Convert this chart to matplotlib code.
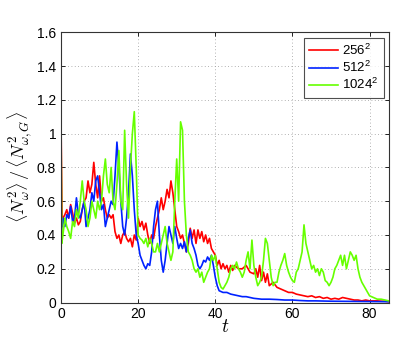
import numpy as np
import matplotlib.pyplot as plt

plt.rcParams['font.family'] = ['Liberation Sans', 'DejaVu Sans']
plt.rcParams['mathtext.fontset'] = 'cm'

# 256^2 run
t_256 = [0, 0.3, 0.5, 1, 1.5, 2, 2.5, 3, 3.5, 4, 4.5, 5, 5.5, 6, 6.5, 7, 7.5, 8, 8.5, 9, 9.5,
         10, 10.5, 11, 11.5, 12, 12.5, 13, 13.5, 14, 14.5, 15, 15.5, 16, 16.5, 17, 17.5, 18, 18.5,
         19, 19.5, 20, 20.5, 21, 21.5, 22, 22.5, 23, 23.5, 24, 24.5, 25, 25.5, 26, 26.5, 27, 27.5,
         28, 28.5, 29, 29.5, 30, 30.5, 31, 31.5, 32, 32.5, 33, 33.5, 34, 34.5, 35, 35.5, 36, 36.5,
         37, 37.5, 38, 38.5, 39, 39.5, 40, 40.5, 41, 41.5, 42, 42.5, 43, 43.5, 44, 44.5, 45, 46,
         47, 48, 49, 50, 50.5, 51, 51.5, 52, 52.5, 53, 53.5, 54, 55, 56, 57, 58, 59, 60, 61, 62,
         63, 64, 65, 66, 67, 68, 69, 70, 71, 72, 73, 74, 75, 76, 77, 78, 79, 80, 81, 82, 83, 84, 85]
v_256 = [1.07, 0.45, 0.5, 0.52, 0.55, 0.5, 0.58, 0.53, 0.47, 0.5, 0.46, 0.48, 0.55, 0.6, 0.62,
         0.72, 0.65, 0.7, 0.83, 0.7, 0.62, 0.75, 0.6, 0.62, 0.55, 0.5, 0.52, 0.5, 0.52, 0.42, 0.38,
         0.4, 0.35, 0.4, 0.42, 0.38, 0.36, 0.38, 0.33, 0.4, 0.37, 0.5, 0.45, 0.48, 0.43, 0.47, 0.4,
         0.35, 0.4, 0.38, 0.45, 0.5, 0.55, 0.62, 0.55, 0.6, 0.67, 0.62, 0.72, 0.65, 0.55, 0.45,
         0.42, 0.38, 0.4, 0.35, 0.3, 0.35, 0.44, 0.38, 0.43, 0.35, 0.43, 0.38, 0.42, 0.36, 0.4,
         0.35, 0.38, 0.32, 0.3, 0.28, 0.22, 0.25, 0.2, 0.23, 0.2, 0.22, 0.18, 0.22, 0.19, 0.22,
         0.2, 0.2, 0.22, 0.18, 0.17, 0.2, 0.15, 0.22, 0.13, 0.18, 0.12, 0.17, 0.1, 0.12, 0.09,
         0.08, 0.07, 0.06, 0.06, 0.05, 0.045, 0.04, 0.035, 0.04, 0.03, 0.035, 0.025, 0.03, 0.02,
         0.025, 0.02, 0.03, 0.025, 0.02, 0.015, 0.015, 0.01, 0.015, 0.01, 0.01, 0.01, 0.008,
         0.008, 0.005]

# 512^2 run
t_512 = [0, 0.5, 1, 1.5, 2, 2.5, 3, 3.5, 4, 4.5, 5, 5.5, 6, 6.5, 7, 7.5, 8, 8.5, 9, 9.5, 10,
         10.5, 11, 11.5, 12, 12.5, 13, 13.5, 14, 14.5, 15, 15.5, 16, 16.5, 17, 17.5, 18, 18.5, 19,
         19.5, 20, 20.5, 21, 21.5, 22, 22.5, 23, 23.5, 24, 24.5, 25, 25.5, 26, 26.5, 27, 27.5, 28,
         28.5, 29, 29.5, 30, 30.5, 31, 31.5, 32, 32.5, 33, 33.5, 34, 34.5, 35, 35.5, 36, 36.5, 37,
         37.5, 38, 38.5, 39, 39.5, 40, 40.5, 41, 42, 43, 44, 45, 46, 47, 48, 49, 50, 52, 54, 56,
         58, 60, 62, 64, 66, 70, 75, 80, 85]
v_512 = [0.4, 0.5, 0.45, 0.52, 0.5, 0.57, 0.48, 0.5, 0.62, 0.52, 0.5, 0.55, 0.6, 0.45, 0.5,
         0.55, 0.65, 0.6, 0.72, 0.75, 0.65, 0.55, 0.58, 0.45, 0.5, 0.55, 0.6, 0.58, 0.75, 0.95,
         0.8, 0.6, 0.45, 0.4, 0.5, 0.65, 0.88, 0.75, 0.55, 0.4, 0.35, 0.28, 0.25, 0.22, 0.2, 0.23,
         0.22, 0.3, 0.45, 0.55, 0.6, 0.4, 0.25, 0.18, 0.25, 0.35, 0.45, 0.4, 0.35, 0.45, 0.38,
         0.32, 0.35, 0.32, 0.36, 0.3, 0.38, 0.43, 0.35, 0.32, 0.28, 0.22, 0.2, 0.22, 0.25, 0.24,
         0.27, 0.25, 0.28, 0.22, 0.15, 0.1, 0.07, 0.06, 0.06, 0.05, 0.045, 0.04, 0.035, 0.035,
         0.03, 0.025, 0.02, 0.02, 0.018, 0.015, 0.015, 0.012, 0.01, 0.01, 0.008, 0.007, 0.006,
         0.005]

# 1024^2 run
t_1024 = [0, 0.2, 0.5, 1, 1.5, 2, 2.5, 3, 3.5, 4, 4.5, 5, 5.5, 6, 6.5, 7, 7.5, 8, 8.5, 9, 9.5,
          10, 10.5, 11, 11.5, 12, 12.5, 13, 13.5, 14, 14.5, 15, 15.5, 16, 16.5, 17, 17.5, 18,
          18.5, 19, 19.5, 20, 20.5, 21, 21.5, 22, 22.5, 23, 23.5, 24, 24.5, 25, 25.5, 26, 26.5,
          27, 27.5, 28, 28.5, 29, 29.5, 30, 30.5, 31, 31.5, 32, 32.5, 33, 33.5, 34, 34.5, 35,
          35.5, 36, 36.5, 37, 37.5, 38, 38.5, 39, 39.5, 40, 40.5, 41, 41.5, 42, 42.5, 43, 43.5,
          44, 44.5, 45, 45.5, 46, 46.5, 47, 47.5, 48, 48.5, 49, 49.5, 50, 50.5, 51, 51.5, 52,
          52.5, 53, 53.5, 54, 54.5, 55, 55.5, 56, 56.5, 57, 57.5, 58, 58.5, 59, 59.5, 60, 60.5,
          61, 61.5, 62, 62.5, 63, 63.5, 64, 64.5, 65, 65.5, 66, 66.5, 67, 67.5, 68, 68.5, 69,
          69.5, 70, 70.5, 71, 71.5, 72, 72.5, 73, 73.5, 74, 74.5, 75, 75.5, 76, 76.5, 77, 77.5,
          78, 78.5, 79, 79.5, 80, 81, 82, 83, 84, 85]
v_1024 = [1.07, 0.35, 0.4, 0.5, 0.45, 0.42, 0.38, 0.48, 0.45, 0.55, 0.5, 0.6, 0.72, 0.6, 0.55,
          0.45, 0.5, 0.6, 0.55, 0.5, 0.6, 0.55, 0.6, 0.75, 0.85, 0.7, 0.65, 0.8, 0.6, 0.55, 0.7,
          0.9, 0.6, 0.55, 1.02, 0.7, 0.5, 0.8, 1.0, 1.13, 0.8, 0.4, 0.38, 0.37, 0.35, 0.38, 0.33,
          0.38, 0.35, 0.3, 0.3, 0.35, 0.3, 0.35, 0.4, 0.45, 0.35, 0.3, 0.25, 0.3, 0.6, 0.85, 0.6,
          1.07, 1.02, 0.6, 0.4, 0.3, 0.28, 0.25, 0.2, 0.18, 0.2, 0.15, 0.18, 0.12, 0.15, 0.18, 0.2,
          0.28, 0.25, 0.28, 0.2, 0.12, 0.09, 0.08, 0.1, 0.12, 0.15, 0.2, 0.22, 0.2, 0.24, 0.2,
          0.18, 0.15, 0.18, 0.25, 0.3, 0.2, 0.37, 0.22, 0.15, 0.1, 0.12, 0.15, 0.25, 0.38, 0.35,
          0.25, 0.15, 0.1, 0.12, 0.12, 0.18, 0.22, 0.25, 0.29, 0.22, 0.18, 0.15, 0.13, 0.12, 0.18,
          0.2, 0.25, 0.3, 0.46, 0.35, 0.3, 0.25, 0.2, 0.22, 0.18, 0.2, 0.16, 0.2, 0.18, 0.13,
          0.12, 0.1, 0.12, 0.15, 0.2, 0.22, 0.25, 0.28, 0.22, 0.28, 0.2, 0.25, 0.3, 0.28, 0.25,
          0.28, 0.2, 0.15, 0.12, 0.1, 0.08, 0.06, 0.04, 0.03, 0.02, 0.02, 0.015, 0.01]

labels = [r'$\mathregular{256^2}$', r'$\mathregular{512^2}$', r'$\mathregular{1024^2}$']
colors = ['#ff0000', '#0022ff', '#66ff00']

fig = plt.figure(figsize=(4.15, 3.51), dpi=100)
ax = fig.add_axes([0.147, 0.138, 0.79, 0.77])

ax.plot(t_256, v_256, color=colors[0], lw=1.2, label=labels[0])
ax.plot(t_512, v_512, color=colors[1], lw=1.2, label=labels[1])
ax.plot(t_1024, v_1024, color=colors[2], lw=1.2, label=labels[2])

ax.set_xlim(0, 85)
ax.set_ylim(0, 1.6)
ax.set_xticks([0, 20, 40, 60, 80])
ax.set_yticks([0, 0.2, 0.4, 0.6, 0.8, 1, 1.2, 1.4, 1.6])
ax.set_yticklabels(['0', '0.2', '0.4', '0.6', '0.8', '1', '1.2', '1.4', '1.6'])
ax.tick_params(direction='in', top=True, right=True, labelsize=10, length=3, width=0.6)
ax.grid(True, linestyle=(0, (1, 3)), color='#999999', lw=0.6)
for s in ax.spines.values():
    s.set_linewidth(0.8)
    s.set_color('#333333')

ax.set_xlabel('$t$', fontsize=14, labelpad=-2)
ax.set_ylabel(r'$\langle N_\omega^2\rangle\,/\,\langle N_{\omega,G}^2\rangle$', fontsize=13, labelpad=2)

leg = ax.legend(loc='upper right', fontsize=9.5, frameon=True, fancybox=False,
                edgecolor='#222222', handlelength=2.2, borderaxespad=0.4,
                labelspacing=0.15, handletextpad=0.3, borderpad=0.4)
leg.get_frame().set_linewidth(0.8)

fig.savefig('out.png', dpi=100)
